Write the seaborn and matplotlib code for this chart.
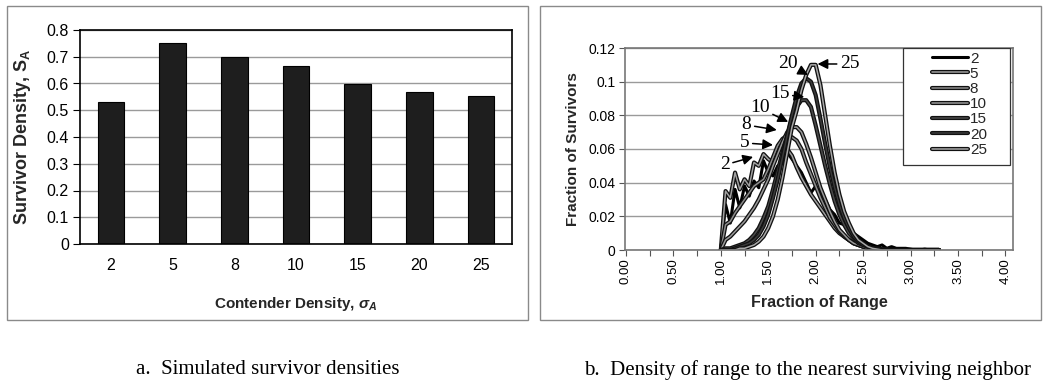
import numpy as np
import pandas as pd
import matplotlib
matplotlib.use("Agg")
import matplotlib.pyplot as plt
import matplotlib.patheffects as pe
from matplotlib.patches import Rectangle
from matplotlib.ticker import FuncFormatter, MultipleLocator
import seaborn as sns

# ---------------- data ----------------
categories = ["2", "5", "8", "10", "15", "20", "25"]
survivor_density = [0.53, 0.752, 0.70, 0.665, 0.600, 0.568, 0.555]

x_range = [round(1.00 + 0.05 * i, 2) for i in range(47)]  # 1.00 .. 3.30

s2 = [0, 0.027, 0.016, 0.036, 0.025, 0.038, 0.032, 0.041, 0.037, 0.053, 0.046, 0.044,
      0.050, 0.052, 0.058, 0.054, 0.050, 0.046, 0.040, 0.034, 0.038, 0.033, 0.030, 0.024,
      0.021, 0.016, 0.015, 0.012, 0.010, 0.008, 0.006, 0.004, 0.003, 0.002, 0.003, 0.001,
      0.002, 0.001, 0.001, 0.001, 0.0005, 0, 0, 0.0005, 0, 0, 0]
s5 = [0, 0.035, 0.031, 0.046, 0.036, 0.042, 0.038, 0.052, 0.050, 0.057, 0.054, 0.052,
      0.060, 0.062, 0.060, 0.056, 0.049, 0.043, 0.038, 0.033, 0.029, 0.025, 0.021, 0.017,
      0.013, 0.010, 0.008, 0.006, 0.004, 0.003, 0.002, 0.0015, 0.001, 0.001, 0.0005, 0.0005,
      0, 0, 0, 0, 0, 0, 0, 0, 0, 0, 0]
s8 = [0, 0.015, 0.017, 0.022, 0.026, 0.030, 0.034, 0.038, 0.040, 0.042, 0.048, 0.055,
      0.062, 0.066, 0.068, 0.067, 0.065, 0.060, 0.052, 0.045, 0.038, 0.031, 0.025, 0.019,
      0.015, 0.011, 0.008, 0.006, 0.004, 0.003, 0.002, 0.001, 0.001, 0.0005, 0, 0,
      0, 0, 0, 0, 0, 0, 0, 0, 0, 0, 0]
s10 = [0, 0.006, 0.008, 0.011, 0.014, 0.017, 0.021, 0.025, 0.030, 0.036, 0.042, 0.050,
       0.057, 0.064, 0.070, 0.073, 0.073, 0.070, 0.063, 0.055, 0.046, 0.037, 0.030, 0.023,
       0.017, 0.012, 0.009, 0.006, 0.004, 0.003, 0.002, 0.001, 0.0005, 0, 0, 0,
       0, 0, 0, 0, 0, 0, 0, 0, 0, 0, 0]
s15 = [0, 0.001, 0.001, 0.002, 0.003, 0.004, 0.006, 0.009, 0.013, 0.019, 0.026, 0.036,
       0.047, 0.058, 0.068, 0.078, 0.085, 0.089, 0.089, 0.085, 0.074, 0.062, 0.050, 0.039,
       0.029, 0.021, 0.015, 0.010, 0.007, 0.004, 0.003, 0.002, 0.001, 0.0005, 0, 0,
       0, 0, 0, 0, 0, 0, 0, 0, 0, 0, 0]
s20 = [0, 0, 0, 0.001, 0.002, 0.003, 0.004, 0.006, 0.009, 0.014, 0.021, 0.031,
       0.042, 0.055, 0.068, 0.080, 0.091, 0.099, 0.102, 0.100, 0.092, 0.078, 0.063, 0.049,
       0.037, 0.027, 0.019, 0.013, 0.008, 0.005, 0.003, 0.002, 0.001, 0.0005, 0, 0,
       0, 0, 0, 0, 0, 0, 0, 0, 0, 0, 0]
s25 = [0, 0, 0, 0, 0.001, 0.001, 0.002, 0.003, 0.005, 0.008, 0.013, 0.020,
       0.030, 0.043, 0.058, 0.073, 0.083, 0.095, 0.104, 0.110, 0.110, 0.098, 0.080, 0.062,
       0.046, 0.033, 0.023, 0.016, 0.010, 0.006, 0.004, 0.002, 0.001, 0.0005, 0, 0,
       0, 0, 0, 0, 0, 0, 0, 0, 0, 0, 0]

series_labels = ["2", "5", "8", "10", "15", "20", "25"]
series_values = [s2, s5, s8, s10, s15, s20, s25]

x_tick_vals = [0.0, 0.5, 1.0, 1.5, 2.0, 2.5, 3.0, 3.5, 4.0]

# ---------------- style ----------------
sns.set_theme(style="white")
plt.rcParams["font.family"] = ["Liberation Sans", "DejaVu Sans"]
plt.rcParams["mathtext.fontset"] = "custom"
plt.rcParams["mathtext.rm"] = "Liberation Sans"
plt.rcParams["mathtext.it"] = "Liberation Sans:italic:bold"
plt.rcParams["mathtext.bf"] = "Liberation Sans:bold"

W, H = 1047, 380
fig = plt.figure(figsize=(W / 100, H / 100), dpi=100)
fig.patch.set_facecolor("white")


def fx(px):
    return px / W


def fy(py):
    return 1 - py / H


# panel frames
for (x0, y0, x1, y1) in [(7, 6, 528, 320), (540, 6, 1041, 320)]:
    fig.patches.append(Rectangle((fx(x0), fy(y1)), fx(x1 - x0), (y1 - y0) / H,
                                 transform=fig.transFigure, fill=False,
                                 edgecolor="#8a8a8a", lw=1.0))

SERIF = ["Liberation Serif", "DejaVu Serif"]

# ---------------- left panel ----------------
axL = fig.add_axes([fx(80), fy(244), fx(512 - 80), (244 - 30) / H])
dfL = pd.DataFrame({"cat": categories, "val": survivor_density})
sns.barplot(data=dfL, x="cat", y="val", ax=axL, color="#1e1e1e", width=0.43,
            edgecolor="black", linewidth=0.8, saturation=1, order=categories)
axL.set_xlim(-0.5, 6.5)
axL.set_ylim(0, 0.8)
axL.yaxis.set_major_locator(MultipleLocator(0.1))
axL.yaxis.set_major_formatter(FuncFormatter(lambda v, p: "0" if abs(v) < 1e-9 else f"{v:.1f}"))
axL.grid(axis="y", color="#9a9a9a", lw=1.0)
axL.set_axisbelow(True)
for s in axL.spines.values():
    s.set_color("black")
    s.set_linewidth(1.2)
axL.set_xticks(np.arange(-0.5, 7, 1.0), minor=True)
axL.tick_params(axis="x", which="major", length=0, pad=10, labelsize=11.5, colors="black")
axL.tick_params(axis="x", which="minor", length=5, width=0.8, color="black", direction="out")
axL.tick_params(axis="y", length=5, width=0.8, color="black", direction="out", left=True,
                pad=3, labelsize=11.5, labelcolor="black")
axL.set_xlabel(r"Contender Density, $\sigma_{A}$", fontsize=11, fontweight="bold")
axL.set_ylabel(r"Survivor Density, $\mathbf{S_{A}}$", fontsize=13, fontweight="bold")
axL.yaxis.set_label_coords(-0.109, 0.5)
axL.xaxis.set_label_coords(0.5, -0.238)

# ---------------- right panel ----------------
axR = fig.add_axes([fx(625), fy(250), fx(1013 - 625), (250 - 48) / H])
styles = {
    "2": dict(color="black", lw=2.2, effects=None),
    "5": dict(color="#a0a0a0", lw=1.1, effects="outline"),
    "8": dict(color="#8c8c8c", lw=1.1, effects="outline"),
    "10": dict(color="#9a9a9a", lw=1.1, effects="outline"),
    "15": dict(color="#4a4a4a", lw=1.1, effects="outline"),
    "20": dict(color="#3a3a3a", lw=1.1, effects="outline"),
    "25": dict(color="#a8a8a8", lw=1.1, effects="outline"),
}
handles = []
for lab, vals in zip(series_labels, series_values):
    st = styles[lab]
    kw = {}
    if st["effects"] == "outline":
        kw["path_effects"] = [pe.Stroke(linewidth=3.0, foreground="#111111"), pe.Normal()]
    sns.lineplot(x=x_range, y=vals, ax=axR, color=st["color"], lw=st["lw"], label=lab,
                 legend=False, **kw)
    handles.append(axR.lines[-1])

axR.set_xlim(-0.01, 4.08)
axR.set_ylim(0, 0.12)
axR.yaxis.set_major_locator(MultipleLocator(0.02))
axR.yaxis.set_major_formatter(FuncFormatter(
    lambda v, p: "0" if abs(v) < 1e-9 else ("0.1" if abs(v - 0.1) < 1e-9 else f"{v:.2f}")))
axR.set_xticks(x_tick_vals)
axR.set_xticklabels([f"{v:.2f}" for v in x_tick_vals], rotation=90)
axR.set_xticks(np.arange(0, 4.01, 0.25), minor=True)
axR.grid(axis="y", color="#9a9a9a", lw=1.0)
axR.set_axisbelow(True)
for s in axR.spines.values():
    s.set_color("#777777")
    s.set_linewidth(1.2)
axR.tick_params(axis="x", which="both", length=4, width=0.8, color="#555555",
                direction="out", bottom=True, pad=2, labelsize=9.5, labelcolor="black")
axR.tick_params(axis="y", length=4, width=0.8, color="#555555", direction="out", left=True,
                pad=3, labelsize=10, labelcolor="black")
axR.set_xlabel("Fraction of Range", fontsize=11.5, fontweight="bold")
axR.set_ylabel("Fraction of Survivors", fontsize=11, fontweight="bold")
axR.yaxis.set_label_coords(-0.116, 0.5)
axR.xaxis.set_label_coords(0.5, -0.223)

# legend with a custom frame
axR.add_patch(Rectangle((0.716, 0.42), 0.992 - 0.716, 0.58, transform=axR.transAxes,
                        facecolor="white", edgecolor="#333333", lw=0.9, zorder=4))
leg = axR.legend(handles=handles, labels=series_labels, loc="upper left",
                 bbox_to_anchor=((927 - 625) / 388, 1.005), frameon=False,
                 fontsize=11, handlelength=2.4, handletextpad=0.1, labelspacing=0.08,
                 borderpad=0.3, borderaxespad=0)
leg.set_zorder(5)

# annotations
ann = [
    ("2", (1.34, 0.0553), (1.04, 0.0505)),
    ("5", (1.55, 0.0624), (1.25, 0.0636)),
    ("8", (1.59, 0.0713), (1.27, 0.0743)),
    ("10", (1.71, 0.0761), (1.41, 0.0844)),
    ("15", (1.88, 0.0909), (1.62, 0.0927)),
    ("20", (1.92, 0.1040), (1.71, 0.1105)),
    ("25", (2.02, 0.1105), (2.36, 0.1105)),
]
for lab, head, txt in ann:
    axR.annotate(lab, xy=head, xytext=txt, ha="center", va="center",
                 fontsize=14, family=SERIF, color="black",
                 arrowprops=dict(arrowstyle="-|>", color="black", lw=1.1,
                                 mutation_scale=15, shrinkA=0, shrinkB=0),
                 zorder=6)

# captions
fig.text(fx(268), fy(370), "a.  Simulated survivor densities", ha="center", va="center",
         fontsize=15, family=SERIF, color="black")
fig.text(fx(808), fy(370), "b.  Density of range to the nearest surviving neighbor",
         ha="center", va="center", fontsize=15, family=SERIF, color="black")

fig.savefig("out.png", dpi=100, facecolor="white")
